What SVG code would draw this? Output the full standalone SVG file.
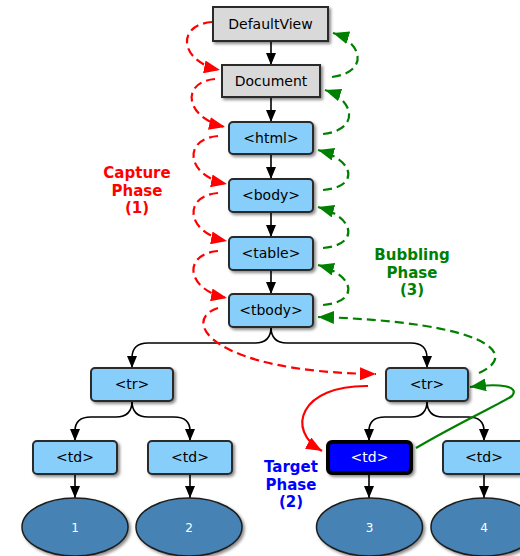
<svg xmlns="http://www.w3.org/2000/svg" width="520" height="556" viewBox="0 0 520 556">
<style>
.box{fill:#87cefa;stroke:#2b2b2b;stroke-width:2;filter:url(#sh)}
.gray{fill:#d9d9d9;stroke:#2b2b2b;stroke-width:2;filter:url(#sh)}
.target{fill:#0000ff;stroke:#000;stroke-width:4;filter:url(#sh)}
.leaf{fill:#4682b4;stroke:#1e1e1e;stroke-width:1.5;filter:url(#sh)}
.t{font-family:"DejaVu Sans",sans-serif;font-size:14px;text-anchor:middle;fill:#000}
.tw{font-family:"DejaVu Sans",sans-serif;font-size:14px;text-anchor:middle;fill:#fff}
.num{font-family:"DejaVu Sans",sans-serif;font-size:12px;text-anchor:middle;fill:#fff}
.lbl{font-family:"DejaVu Sans",sans-serif;font-size:15px;font-weight:bold;text-anchor:middle}
.blk{fill:none;stroke:#000;stroke-width:1.6;marker-end:url(#ab)}
.rd{fill:none;stroke:#ff0000;stroke-width:2.2;stroke-dasharray:9,5;marker-end:url(#ar)}
.gd{fill:none;stroke:#008000;stroke-width:2.2;stroke-dasharray:9,5;marker-end:url(#ag)}
.rs{fill:none;stroke:#ff0000;stroke-width:2.2;marker-end:url(#ar)}
.gs{fill:none;stroke:#008000;stroke-width:2.2;marker-end:url(#ag)}
</style>
<defs>
<filter id="sh" x="-20%" y="-20%" width="140%" height="150%">
<feDropShadow dx="2" dy="2" stdDeviation="1.5" flood-color="#000" flood-opacity="0.45"/>
</filter>
<marker id="ab" viewBox="0 0 12 10" refX="12" refY="5" markerWidth="12" markerHeight="10" markerUnits="userSpaceOnUse" orient="auto"><path d="M0,0 L12,5 L0,10 z" fill="#000"/></marker>
<marker id="ar" viewBox="0 0 16 13" refX="16" refY="6.5" markerWidth="16" markerHeight="13" markerUnits="userSpaceOnUse" orient="auto"><path d="M0,0 L16,6.5 L0,13 z" fill="#ff0000"/></marker>
<marker id="ag" viewBox="0 0 16 13" refX="16" refY="6.5" markerWidth="16" markerHeight="13" markerUnits="userSpaceOnUse" orient="auto"><path d="M0,0 L16,6.5 L0,13 z" fill="#008000"/></marker>
</defs>

<g id="connectors">
<path class="blk" d="M271,41 L271,65"/>
<path class="blk" d="M271,97 L271,122"/>
<path class="blk" d="M271,154 L271,179"/>
<path class="blk" d="M271,212 L271,237"/>
<path class="blk" d="M271,270 L271,294"/>
<path class="blk" d="M271,327 Q271,343 255,343 L148,343 Q132,343 132,358 L132,368"/>
<path class="blk" d="M271,327 Q271,343 287,343 L411,343 Q427,343 427,358 L427,368"/>
<path class="blk" d="M132,401 Q132,417 116,417 L91,417 Q75,417 75,431 L75,441"/>
<path class="blk" d="M132,401 Q132,417 148,417 L174,417 Q190,417 190,431 L190,441"/>
<path class="blk" d="M427,401 Q427,417 411,417 L385,417 Q369,417 369,431 L369,441"/>
<path class="blk" d="M427,401 Q427,417 443,417 L468,417 Q484,417 484,431 L484,441"/>
<path class="blk" d="M75,474 L75,498"/>
<path class="blk" d="M190,474 L190,498"/>
<path class="blk" d="M369,474 L369,498"/>
<path class="blk" d="M484,474 L484,498"/>

<path class="rd" d="M212,22 C175,25 180,62 220,70"/>
<path class="rd" d="M215,79 C180,82 185,118 225,127"/>
<path class="rd" d="M218,136 C182,139 186,176 227,184"/>
<path class="rd" d="M218,193 C182,196 186,233 227,241"/>
<path class="rd" d="M218,251 C182,254 186,290 227,298"/>
<path class="rd" d="M218,308 C180,320 210,372 376,374"/>
<path class="rs" d="M368,386 C300,385 285,430 322,451"/>

<path class="gd" d="M332,77 C370,72 362,42 333,33"/>
<path class="gd" d="M323,134 C360,130 355,100 325,90"/>
<path class="gd" d="M323,190 C360,187 355,160 318,150"/>
<path class="gd" d="M323,248 C360,245 355,217 318,207"/>
<path class="gd" d="M323,305 C360,302 355,275 318,265"/>
<path class="gd" d="M479,373 C520,355 490,322 318,317"/>
<path class="gs" d="M416,448 C460,422 504,402 512,396 C520,386 500,383 470,387"/>
</g>

<g id="DefaultView"><rect class="gray" x="213" y="7" width="115" height="34"/><text class="t" x="270.5" y="29">DefaultView</text></g>
<g id="Document"><rect class="gray" x="222" y="65" width="98" height="32"/><text class="t" x="271" y="86">Document</text></g>
<g id="html"><rect class="box" x="229" y="122" width="84" height="32" rx="4"/><text class="t" x="271" y="143">&lt;html&gt;</text></g>
<g id="body"><rect class="box" x="229" y="179" width="84" height="33" rx="4"/><text class="t" x="271" y="200">&lt;body&gt;</text></g>
<g id="table"><rect class="box" x="229" y="237" width="84" height="33" rx="4"/><text class="t" x="271" y="258">&lt;table&gt;</text></g>
<g id="tbody"><rect class="box" x="229" y="294" width="84" height="33" rx="4"/><text class="t" x="271" y="315">&lt;tbody&gt;</text></g>
<g id="tr1"><rect class="box" x="91" y="368" width="82" height="33" rx="4"/><text class="t" x="132" y="389">&lt;tr&gt;</text></g>
<g id="tr2"><rect class="box" x="386" y="368" width="82" height="33" rx="4"/><text class="t" x="427" y="389">&lt;tr&gt;</text></g>
<g id="td1"><rect class="box" x="33" y="441" width="84" height="33" rx="4"/><text class="t" x="75" y="462">&lt;td&gt;</text></g>
<g id="td2"><rect class="box" x="148" y="441" width="84" height="33" rx="4"/><text class="t" x="190" y="462">&lt;td&gt;</text></g>
<g id="td3"><rect class="target" x="328" y="442" width="83" height="31" rx="4"/><text class="tw" x="369.5" y="462">&lt;td&gt;</text></g>
<g id="td4"><rect class="box" x="443" y="441" width="84" height="33" rx="4"/><text class="t" x="484" y="462">&lt;td&gt;</text></g>
<g id="n1"><ellipse class="leaf" cx="75" cy="527" rx="53" ry="29"/><text class="num" x="75" y="532">1</text></g>
<g id="n2"><ellipse class="leaf" cx="189" cy="527" rx="53" ry="29"/><text class="num" x="189" y="532">2</text></g>
<g id="n3"><ellipse class="leaf" cx="369.5" cy="527" rx="53" ry="29"/><text class="num" x="369.5" y="532">3</text></g>
<g id="n4"><ellipse class="leaf" cx="484" cy="527" rx="53" ry="29"/><text class="num" x="484" y="532">4</text></g>

<g id="capture-label"><text class="lbl" fill="#ff0000" x="137" y="178"><tspan x="137" y="178">Capture</tspan><tspan x="137" y="195.5">Phase</tspan><tspan x="137" y="213">(1)</tspan></text></g>
<g id="bubbling-label"><text class="lbl" fill="#008000" x="412" y="260"><tspan x="412" y="260">Bubbling</tspan><tspan x="412" y="277.5">Phase</tspan><tspan x="412" y="295">(3)</tspan></text></g>
<g id="target-label"><text class="lbl" fill="#0000ff" x="291" y="472"><tspan x="291" y="472">Target</tspan><tspan x="291" y="489.5">Phase</tspan><tspan x="291" y="507">(2)</tspan></text></g>
</svg>
